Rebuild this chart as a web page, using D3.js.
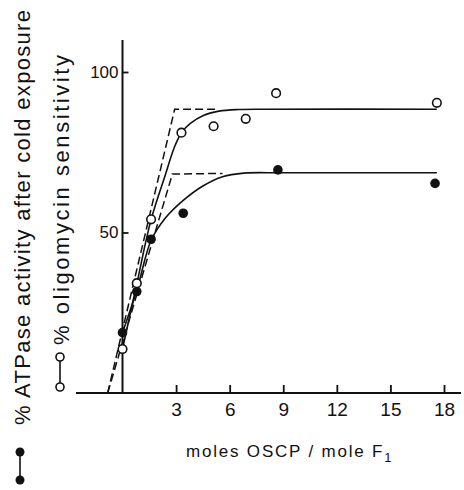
<!DOCTYPE html>
<meta charset="utf-8">
<script src="https://d3js.org/d3.v7.min.js"></script>
<style>
body { margin: 0; background: #fff; }
text { font-family: "Liberation Sans", Arial, sans-serif; fill: #111; }
</style>

<div id="my_dataviz"></div>

<script>

// tick labels
var xTicks = [3, 6, 9, 12, 15, 18];
var yTicks = [50, 100];

// open circles: % oligomycin sensitivity
var oligoX = [0, 0.8, 1.6, 3.3, 5.1, 6.9, 8.6, 17.6];
var oligoY = [13.7, 34.2, 54.1, 81.1, 83.1, 85.4, 93.4, 90.4];

// filled circles: % ATPase activity after cold exposure
var coldX = [0, 0.8, 1.6, 3.4, 8.7, 17.5];
var coldY = [18.8, 31.6, 47.9, 56.0, 69.5, 65.3];

// hand drawn curves
var oligoCurveX = [0, 0.8, 1.6, 2.4, 2.9, 3.3, 3.8, 4.5, 5.4, 6.5, 8, 17.6];
var oligoCurveY = [13.7, 34, 54, 68, 76.5, 81.1, 84, 86.4, 87.8, 88.3, 88.4, 88.4];
var coldCurveX = [0, 0.8, 1.6, 2.4, 3.4, 4.5, 5.6, 6.8, 9, 17.6];
var coldCurveY = [18.8, 32, 47.5, 54.5, 60, 64.5, 67.4, 68.5, 68.6, 68.6];

// dashed extrapolation lines
var oligoDashX = [-0.83, 2.92, 5.4];
var oligoDashY = [0, 88.4, 88.4];
var coldDashX = [-0.83, 2.79, 5.6];
var coldDashY = [0, 68.2, 68.4];

var W = 464, H = 490;

var svg = d3.select("#my_dataviz")
  .append("svg")
    .attr("width", W)
    .attr("height", H);

var x = d3.scaleLinear().domain([0, 18]).range([122.5, 444]);
var y = d3.scaleLinear().domain([0, 100]).range([393, 72]);

function pts(xs, ys) { return xs.map(function(d, i) { return [d, ys[i]]; }); }

// axes lines
svg.append("line")
  .attr("x1", 76).attr("x2", 461)
  .attr("y1", y(0)).attr("y2", y(0))
  .attr("stroke", "#111").attr("stroke-width", 2);
svg.append("line")
  .attr("x1", x(0)).attr("x2", x(0))
  .attr("y1", y(0)).attr("y2", y(110))
  .attr("stroke", "#111").attr("stroke-width", 2);

// X axis ticks
var gx = svg.append("g")
  .attr("transform", "translate(0," + y(0) + ")")
  .call(d3.axisBottom(x).tickValues(xTicks).tickSize(-8).tickPadding(10));
gx.select(".domain").remove();
gx.selectAll("line").attr("stroke", "#111").attr("stroke-width", 1.8);
gx.selectAll("text").style("font-size", "19px").attr("fill", "#111");

// Y axis ticks
var gy = svg.append("g")
  .attr("transform", "translate(" + x(0) + ",0)")
  .call(d3.axisLeft(y).tickValues(yTicks).tickSize(-6).tickPadding(4));
gy.select(".domain").remove();
gy.selectAll("line").attr("stroke", "#111").attr("stroke-width", 1.8);
gy.selectAll("text").style("font-size", "17px").attr("fill", "#111");

var line = d3.line()
  .x(function(d) { return x(d[0]); })
  .y(function(d) { return y(d[1]); });

// dashed lines
[pts(oligoDashX, oligoDashY), pts(coldDashX, coldDashY)].forEach(function(p) {
  svg.append("path")
    .attr("d", line.curve(d3.curveLinear)(p))
    .attr("fill", "none")
    .attr("stroke", "#111")
    .attr("stroke-width", 1.5)
    .attr("stroke-dasharray", "8,4");
});

// solid curves
[pts(oligoCurveX, oligoCurveY), pts(coldCurveX, coldCurveY)].forEach(function(p) {
  svg.append("path")
    .attr("d", line.curve(d3.curveCatmullRom.alpha(0.5))(p))
    .attr("fill", "none")
    .attr("stroke", "#111")
    .attr("stroke-width", 1.6);
});

// points
svg.selectAll("circle.cold")
  .data(pts(coldX, coldY))
  .enter()
  .append("circle")
    .attr("class", "cold")
    .attr("cx", function(d) { return x(d[0]); })
    .attr("cy", function(d) { return y(d[1]); })
    .attr("r", 4.8)
    .attr("fill", "#111");

svg.selectAll("circle.oligo")
  .data(pts(oligoX, oligoY))
  .enter()
  .append("circle")
    .attr("class", "oligo")
    .attr("cx", function(d) { return x(d[0]); })
    .attr("cy", function(d) { return y(d[1]); })
    .attr("r", 4.3)
    .attr("fill", "#fff")
    .attr("stroke", "#111")
    .attr("stroke-width", 1.6);

// X label
var xl = svg.append("text")
  .attr("x", 186).attr("y", 457)
  .style("font-size", "17px")
  .style("letter-spacing", "1.8px");
xl.append("tspan").text("moles OSCP / mole F");
xl.append("tspan").attr("dy", 5).style("font-size", "13px").text("1");

// Y labels (rotated) with legend symbols
function legend(cx, ys, filled) {
  svg.append("line")
    .attr("x1", cx).attr("x2", cx)
    .attr("y1", ys[0]).attr("y2", ys[1])
    .attr("stroke", "#111").attr("stroke-width", 1.6);
  ys.forEach(function(cy) {
    svg.append("circle")
      .attr("cx", cx).attr("cy", cy)
      .attr("r", filled ? 4.5 : 4)
      .attr("fill", filled ? "#111" : "#fff")
      .attr("stroke", "#111")
      .attr("stroke-width", filled ? 0 : 1.6);
  });
}
legend(20, [452, 480], true);
legend(60, [357, 387], false);

svg.append("text")
  .attr("transform", "translate(30,425) rotate(-90)")
  .attr("textLength", 415)
  .attr("lengthAdjust", "spacing")
  .style("font-size", "22px")
  .text("% ATPase activity after cold exposure");

svg.append("text")
  .attr("transform", "translate(69,345) rotate(-90)")
  .attr("textLength", 290)
  .attr("lengthAdjust", "spacing")
  .style("font-size", "22px")
  .text("% oligomycin sensitivity");

</script>
